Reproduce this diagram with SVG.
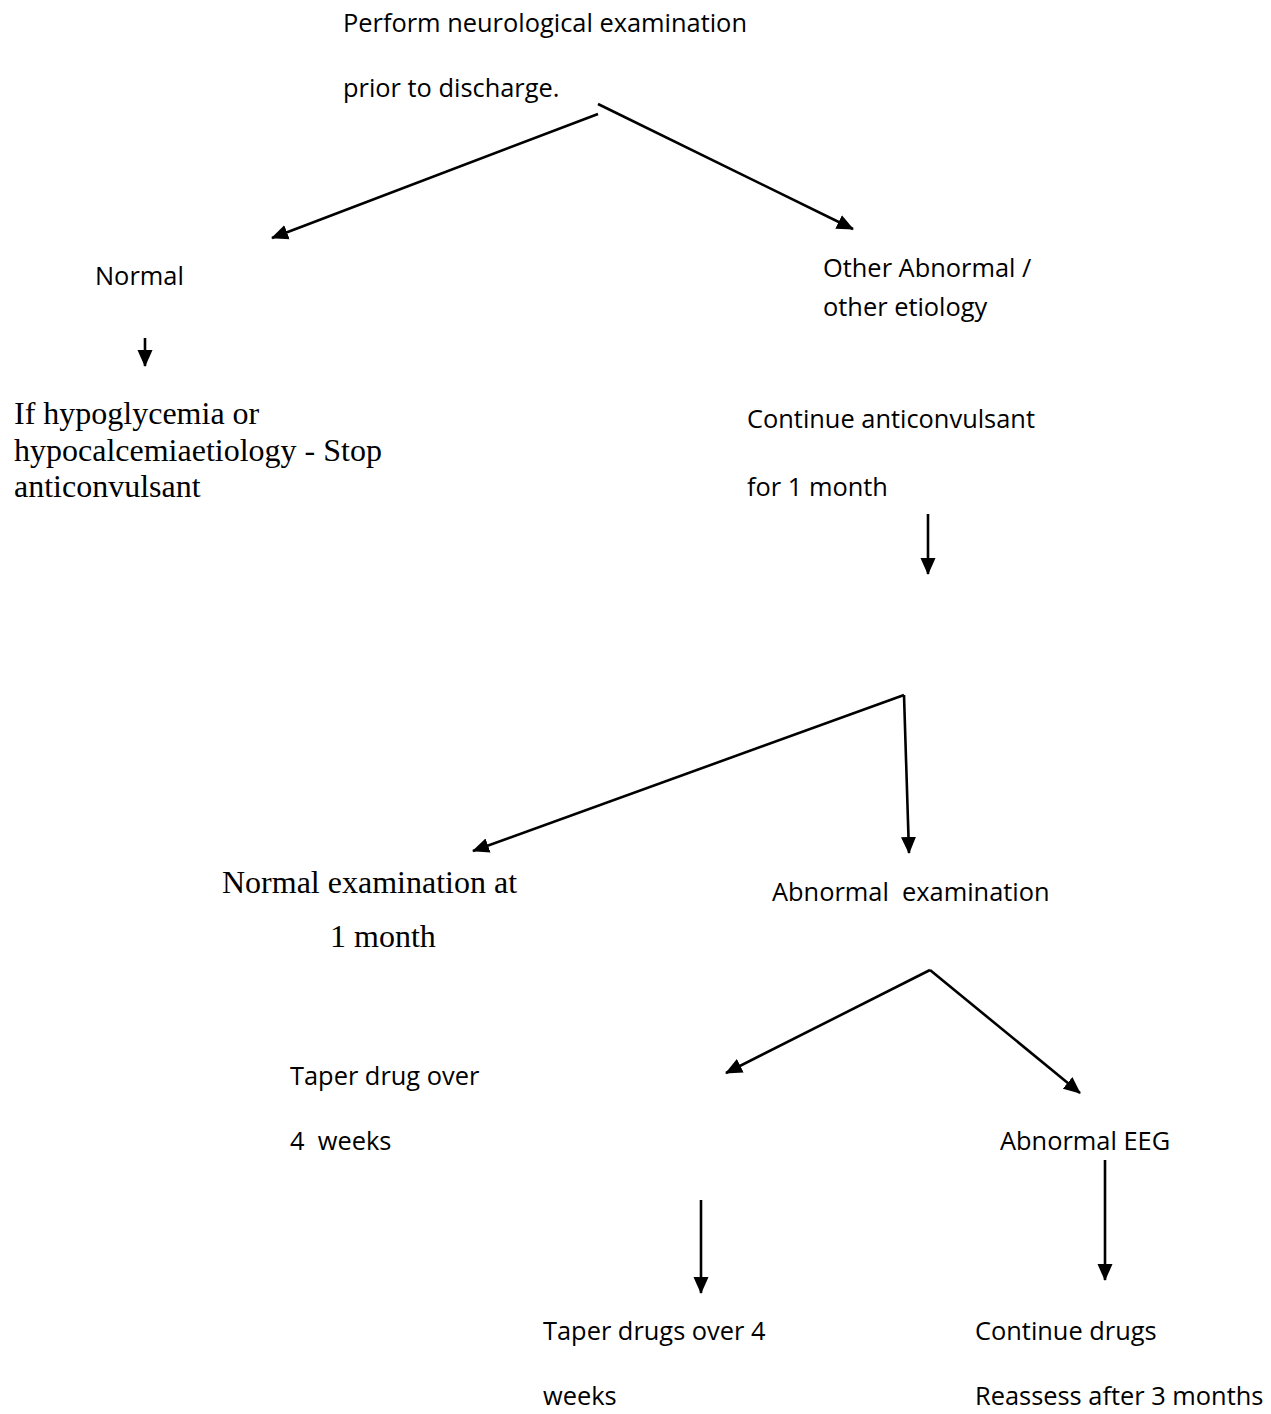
<svg xmlns="http://www.w3.org/2000/svg" width="1271" height="1414" viewBox="0 0 1271 1414">
  <style>
    .sans { font-family: "Open Sans", "Liberation Sans", sans-serif; font-size: 25.4px; fill: #000; }
    .serif { font-family: "Liberation Serif", "Times New Roman", serif; font-size: 32px; fill: #000; }
    .link { stroke: #000; stroke-width: 2.6; fill: none; marker-end: url(#head); }
  </style>
  <defs>
    <marker id="head" markerUnits="userSpaceOnUse" markerWidth="18" markerHeight="16" refX="16" refY="8" orient="auto">
      <path d="M0,0.5 L17,8 L0,15.5 Z" fill="#000"/>
    </marker>
  </defs>
  <rect width="1271" height="1414" fill="#fff"/>

  <g id="connectors">
    <line class="link" x1="598" y1="114" x2="272" y2="238"/>
    <line class="link" x1="598" y1="104" x2="853" y2="229"/>
    <line class="link" x1="145" y1="338" x2="145" y2="366"/>
    <line class="link" x1="928" y1="514" x2="928" y2="574"/>
    <line class="link" x1="904" y1="695" x2="473" y2="851"/>
    <line class="link" x1="904" y1="695" x2="909" y2="853"/>
    <line class="link" x1="930" y1="970" x2="726" y2="1073"/>
    <line class="link" x1="930" y1="970" x2="1080" y2="1093"/>
    <line class="link" x1="701" y1="1200" x2="701" y2="1293"/>
    <line class="link" x1="1105" y1="1160" x2="1105" y2="1280"/>
  </g>

  <g id="start">
    <text class="sans" x="343" y="32">Perform neurological examination</text>
    <text class="sans" x="343" y="97">prior to discharge.</text>
  </g>
  <g id="normal">
    <text class="sans" x="95" y="285">Normal</text>
  </g>
  <g id="stop-anticonvulsant">
    <text class="serif" x="14" y="424">If hypoglycemia or</text>
    <text class="serif" x="14" y="461">hypocalcemiaetiology - Stop</text>
    <text class="serif" x="14" y="497">anticonvulsant</text>
  </g>
  <g id="other-abnormal">
    <text class="sans" x="823" y="277">Other Abnormal /</text>
    <text class="sans" x="823" y="316">other etiology</text>
  </g>
  <g id="continue-anticonvulsant">
    <text class="sans" x="747" y="428">Continue anticonvulsant</text>
    <text class="sans" x="747" y="496">for 1 month</text>
  </g>
  <g id="normal-exam">
    <text class="serif" x="222" y="893">Normal examination at</text>
    <text class="serif" x="330" y="947">1 month</text>
  </g>
  <g id="abnormal-exam">
    <text class="sans" x="772" y="901" xml:space="preserve">Abnormal  examination</text>
  </g>
  <g id="taper-drug">
    <text class="sans" x="290" y="1085">Taper drug over</text>
    <text class="sans" x="290" y="1150" xml:space="preserve">4  weeks</text>
  </g>
  <g id="abnormal-eeg">
    <text class="sans" x="1000" y="1150">Abnormal EEG</text>
  </g>
  <g id="taper-drugs">
    <text class="sans" x="543" y="1340">Taper drugs over 4</text>
    <text class="sans" x="543" y="1405">weeks</text>
  </g>
  <g id="continue-drugs">
    <text class="sans" x="975" y="1340">Continue drugs</text>
    <text class="sans" x="975" y="1405">Reassess after 3 months</text>
  </g>
</svg>
